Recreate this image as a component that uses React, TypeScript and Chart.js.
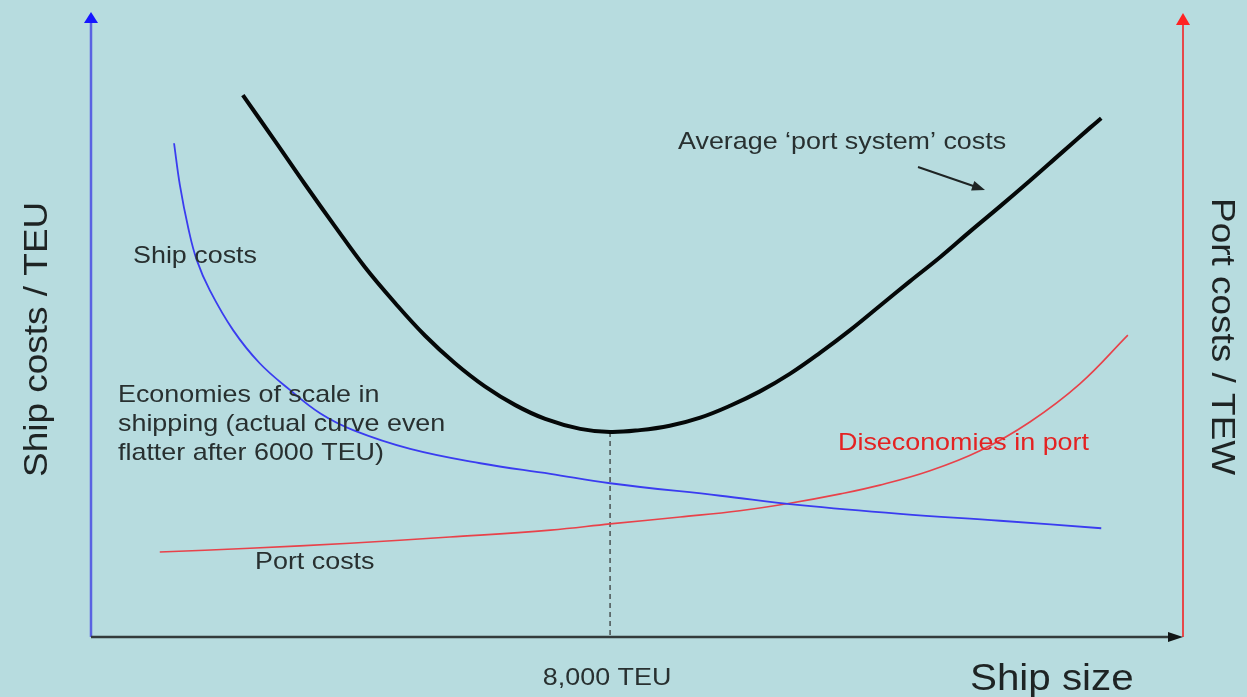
import React, { useEffect, useRef } from 'react';
import { Chart, registerables } from 'chart.js';

Chart.register(...registerables);

// Ship size (TEU) and relative cost levels for the three cost curves
const systemSizes = [
  2340, 2840, 3300, 3760, 4220, 4690, 5150, 5610, 6070, 6540, 7000, 7540, 8000,
  8460, 8920, 9390, 9850, 10310, 10770, 11240, 11700, 12160, 12620, 13090, 13550,
  14010, 14470, 14940, 15400, 15570,
];
const portSystemCost = [
  86.7, 79.3, 72.4, 65.7, 59.2, 53.4, 48.2, 43.8, 40.1, 37.1, 34.9, 33.3, 32.8,
  33.1, 33.8, 35.1, 37.0, 39.3, 42.1, 45.5, 49.1, 53.0, 56.9, 60.8, 64.9,
  68.9, 73.0, 77.3, 81.5, 83.0,
];

const shipSizes = [1280, 1370, 1500, 1630, 1830, 2190, 2600, 3070, 3530, 4040, 4920, 6000, 7080, 8000, 9700, 10930, 12470, 14010, 15570];
const shipCost = [79.0, 72.3, 65.4, 60.3, 55.5, 49.1, 43.8, 39.5, 35.8, 33.1, 30.1, 27.8, 26.1, 24.6, 22.6, 21.1, 19.7, 18.6, 17.4];

const portSizes = [1060, 2450, 3990, 5530, 7080, 8000, 9080, 10000, 10770, 11550, 12160, 12930, 13700, 14470, 15240, 15980];
const portCost = [13.6, 14.2, 15.0, 16.0, 17.1, 18.1, 19.2, 20.2, 21.4, 22.9, 24.3, 26.6, 29.8, 34.4, 40.5, 48.3];

// Optimum ship size marked on the horizontal axis
const optimumSize = 8000;
const optimumLabel = '8,000 TEU';

const X_MAX = 16830;
const Y_MAX = 100;

const BG = '#b7dcdf';
const TEXT = '#283030';
const FONT = '"Liberation Sans", Arial, sans-serif';
const STRETCH = 1.12;

const textLabels = [
  { text: 'Ship costs', x: 133, y: 263, size: 24, color: TEXT },
  { text: 'Economies of scale in', x: 118, y: 402, size: 24, color: TEXT },
  { text: 'shipping (actual curve even', x: 118, y: 431, size: 24, color: TEXT },
  { text: 'flatter after 6000 TEU)', x: 118, y: 460, size: 24, color: TEXT },
  { text: 'Port costs', x: 255, y: 569, size: 24, color: TEXT },
  { text: 'Average \u2018port system\u2019 costs', x: 678, y: 149, size: 24, color: TEXT },
  { text: 'Diseconomies in port', x: 838, y: 450, size: 24, color: '#e42222' },
  { text: 'Ship size', x: 970, y: 690, size: 36, color: '#1e2424' },
];

const toPoints = (xs: number[], ys: number[]) => xs.map((x, i) => ({ x, y: ys[i] }));

function drawText(
  ctx: CanvasRenderingContext2D,
  text: string,
  x: number,
  y: number,
  size: number,
  color: string,
  rot = 0,
  align: CanvasTextAlign = 'left'
) {
  ctx.save();
  ctx.translate(x, y);
  ctx.rotate(rot);
  ctx.scale(STRETCH, 1);
  ctx.font = `${size}px ${FONT}`;
  ctx.fillStyle = color;
  ctx.textAlign = align;
  ctx.textBaseline = 'alphabetic';
  ctx.fillText(text, 0, 0);
  ctx.restore();
}

function triangle(ctx: CanvasRenderingContext2D, pts: number[][], color: string) {
  ctx.beginPath();
  ctx.moveTo(pts[0][0], pts[0][1]);
  for (let i = 1; i < pts.length; i++) ctx.lineTo(pts[i][0], pts[i][1]);
  ctx.closePath();
  ctx.fillStyle = color;
  ctx.fill();
}

const backgroundPlugin = {
  id: 'bgFill',
  beforeDraw(chart: any) {
    const ctx = chart.ctx as CanvasRenderingContext2D;
    ctx.save();
    ctx.fillStyle = BG;
    ctx.fillRect(0, 0, chart.width, chart.height);
    ctx.restore();
  },
};

const axesPlugin = {
  id: 'arrowAxes',
  beforeDatasetsDraw(chart: any) {
    const ctx = chart.ctx as CanvasRenderingContext2D;
    const { left, right, top, bottom } = chart.chartArea;
    ctx.save();
    ctx.lineCap = 'butt';

    // left axis (ship costs)
    ctx.strokeStyle = '#5a62e2';
    ctx.lineWidth = 2.5;
    ctx.beginPath();
    ctx.moveTo(left, bottom);
    ctx.lineTo(left, top + 10);
    ctx.stroke();
    triangle(ctx, [[left, top], [left - 7, top + 11], [left + 7, top + 11]], '#1616ff');

    // right axis (port costs)
    ctx.strokeStyle = '#e6484a';
    ctx.lineWidth = 2;
    ctx.beginPath();
    ctx.moveTo(right, bottom);
    ctx.lineTo(right, top + 11);
    ctx.stroke();
    triangle(ctx, [[right, top + 1], [right - 7, top + 13], [right + 7, top + 13]], '#ff2222');

    // horizontal axis (ship size)
    ctx.strokeStyle = '#333b3b';
    ctx.lineWidth = 2.5;
    ctx.beginPath();
    ctx.moveTo(left, bottom);
    ctx.lineTo(right - 12, bottom);
    ctx.stroke();
    triangle(ctx, [[right, bottom], [right - 15, bottom - 5], [right - 15, bottom + 5]], '#111616');
    ctx.restore();
  },
};

const labelsPlugin = {
  id: 'textLabels',
  afterDatasetsDraw(chart: any) {
    const ctx = chart.ctx as CanvasRenderingContext2D;
    const xs = chart.scales.x;
    textLabels.forEach((l) => drawText(ctx, l.text, l.x, l.y, l.size, l.color));

    drawText(ctx, optimumLabel, xs.getPixelForValue(optimumSize) - 3, 685, 24, TEXT, 0, 'center');

    // axis titles
    drawText(ctx, 'Ship costs / TEU', 47, 477, 33, '#1e2424', -Math.PI / 2);
    drawText(ctx, 'Port costs / TEW', 1212, 198, 33, '#1e2424', Math.PI / 2);

    // pointer towards the average cost curve
    ctx.save();
    ctx.strokeStyle = '#1e2424';
    ctx.lineWidth = 2;
    const x0 = 918, y0 = 167, x1 = 985, y1 = 190;
    const ang = Math.atan2(y1 - y0, x1 - x0);
    ctx.beginPath();
    ctx.moveTo(x0, y0);
    ctx.lineTo(x1 - 10 * Math.cos(ang), y1 - 10 * Math.sin(ang));
    ctx.stroke();
    const hl = 13, hw = 5;
    triangle(
      ctx,
      [
        [x1, y1],
        [x1 - hl * Math.cos(ang) + hw * Math.sin(ang), y1 - hl * Math.sin(ang) - hw * Math.cos(ang)],
        [x1 - hl * Math.cos(ang) - hw * Math.sin(ang), y1 - hl * Math.sin(ang) + hw * Math.cos(ang)],
      ],
      '#1e2424'
    );
    ctx.restore();
  },
};

export default function App() {
  const ref = useRef<HTMLCanvasElement>(null);

  useEffect(() => {
    const canvas = ref.current;
    if (!canvas) return;
    const optimumCost = portSystemCost[systemSizes.indexOf(optimumSize)];

    const chart = new Chart(canvas, {
      type: 'line',
      data: {
        datasets: [
          {
            label: 'Average port system costs',
            data: toPoints(systemSizes, portSystemCost),
            borderColor: '#050808',
            borderWidth: 4,
            tension: 0.4,
            order: 0,
          },
          {
            label: 'Ship costs',
            data: toPoints(shipSizes, shipCost),
            borderColor: '#3a3cf0',
            borderWidth: 1.8,
            tension: 0.4,
            order: 1,
          },
          {
            label: 'Port costs',
            data: toPoints(portSizes, portCost),
            borderColor: '#e8424a',
            borderWidth: 1.6,
            tension: 0.4,
            order: 2,
          },
          {
            label: 'Optimum',
            data: [
              { x: optimumSize, y: optimumCost },
              { x: optimumSize, y: 0 },
            ],
            borderColor: '#4a5252',
            borderWidth: 1.5,
            borderDash: [5, 4],
            tension: 0,
            order: 3,
          },
        ],
      } as any,
      options: {
        responsive: false,
        animation: false,
        devicePixelRatio: 1,
        layout: { padding: { left: 91, right: 64, top: 12, bottom: 60 } },
        elements: { point: { radius: 0, hoverRadius: 0 }, line: { borderCapStyle: 'butt' } },
        scales: {
          x: { type: 'linear', min: 0, max: X_MAX, display: false },
          y: { type: 'linear', min: 0, max: Y_MAX, display: false },
        },
        plugins: { legend: { display: false }, tooltip: { enabled: false }, title: { display: false } },
        events: [],
      } as any,
      plugins: [backgroundPlugin, axesPlugin, labelsPlugin],
    });
    return () => chart.destroy();
  }, []);

  return (
    <div
      style={{
        position: 'fixed',
        left: 0,
        top: 0,
        width: 1247,
        height: 697,
        overflow: 'hidden',
        background: BG,
      }}
    >
      <canvas ref={ref} width={1247} height={697} style={{ display: 'block' }} />
    </div>
  );
}
